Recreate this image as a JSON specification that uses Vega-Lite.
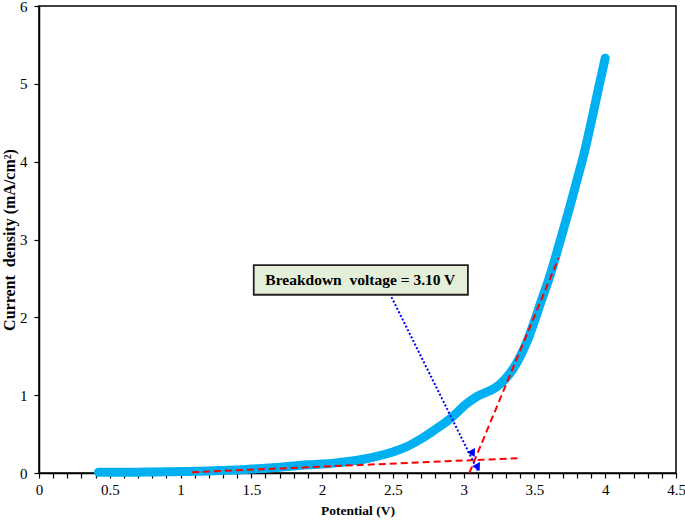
{
  "$schema": "https://vega.github.io/schema/vega-lite/v6.json",
  "autosize": "none",
  "width": 637,
  "height": 467,
  "padding": {"left": 39, "top": 6, "right": 9, "bottom": 49},
  "background": "white",
  "config": {
    "view": {"stroke": "black", "strokeWidth": 1.5},
    "axis": {
      "grid": false,
      "domainColor": "black",
      "domainWidth": 1.5,
      "tickColor": "black",
      "tickWidth": 1.2,
      "tickSize": 5,
      "labelFont": "Liberation Serif",
      "labelFontSize": 15,
      "labelColor": "black",
      "titleFont": "Liberation Serif",
      "titleFontSize": 13,
      "titleFontWeight": "bold",
      "titleColor": "black",
      "labelFlush": false,
      "labelOverlap": false
    }
  },
  "datasets": {
    "curve": [
      {"x": 0.42, "y": 0.01}, {"x": 0.5, "y": 0.01}, {"x": 0.6, "y": 0.01}, {"x": 0.7, "y": 0.011},
      {"x": 0.8, "y": 0.012}, {"x": 0.9, "y": 0.015}, {"x": 1.0, "y": 0.018}, {"x": 1.1, "y": 0.022},
      {"x": 1.2, "y": 0.027}, {"x": 1.3, "y": 0.033}, {"x": 1.4, "y": 0.04}, {"x": 1.5, "y": 0.05},
      {"x": 1.6, "y": 0.06}, {"x": 1.7, "y": 0.075}, {"x": 1.8, "y": 0.09}, {"x": 1.9, "y": 0.105},
      {"x": 2.0, "y": 0.115}, {"x": 2.1, "y": 0.13}, {"x": 2.2, "y": 0.15}, {"x": 2.3, "y": 0.18},
      {"x": 2.4, "y": 0.22}, {"x": 2.5, "y": 0.27}, {"x": 2.6, "y": 0.34}, {"x": 2.7, "y": 0.44},
      {"x": 2.8, "y": 0.56}, {"x": 2.9, "y": 0.69}, {"x": 2.95, "y": 0.77}, {"x": 3.0, "y": 0.86},
      {"x": 3.05, "y": 0.93}, {"x": 3.1, "y": 0.99}, {"x": 3.15, "y": 1.03}, {"x": 3.2, "y": 1.07},
      {"x": 3.25, "y": 1.13}, {"x": 3.3, "y": 1.22}, {"x": 3.35, "y": 1.34}, {"x": 3.4, "y": 1.5},
      {"x": 3.45, "y": 1.7}, {"x": 3.5, "y": 1.95}, {"x": 3.55, "y": 2.22}, {"x": 3.6, "y": 2.48},
      {"x": 3.65, "y": 2.78}, {"x": 3.7, "y": 3.1}, {"x": 3.75, "y": 3.42}, {"x": 3.8, "y": 3.76},
      {"x": 3.85, "y": 4.1}, {"x": 3.9, "y": 4.5}, {"x": 3.95, "y": 4.92}, {"x": 4.0, "y": 5.33}
    ],
    "tangents": [
      {"id": "a", "x": 1.08, "y": 0.01}, {"id": "a", "x": 3.38, "y": 0.19},
      {"id": "b", "x": 3.04, "y": 0.0}, {"id": "b", "x": 3.67, "y": 2.76}
    ],
    "arrow": [
      {"x": 2.49, "y": 2.26}, {"x": 3.1, "y": 0.03}
    ],
    "heads": [
      {"x": 3.065, "y": 0.25}, {"x": 3.1, "y": 0.07}
    ],
    "box": [
      {"x": 1.517, "y": 2.29, "x2": 3.03, "y2": 2.67, "label": "Breakdown\u00a0\u00a0voltage = 3.10 V", "xc": 2.27, "yc": 2.48}
    ]
  },
  "encoding": {
    "x": {
      "field": "x", "type": "quantitative",
      "scale": {"domain": [0, 4.5], "nice": false, "zero": false},
      "axis": {
        "title": "Potential (V)",
        "values": [0,0.1,0.2,0.3,0.4,0.5,0.6,0.7,0.8,0.9,1,1.1,1.2,1.3,1.4,1.5,1.6,1.7,1.8,1.9,2,2.1,2.2,2.3,2.4,2.5,2.6,2.7,2.8,2.9,3,3.1,3.2,3.3,3.4,3.5,3.6,3.7,3.8,3.9,4,4.1,4.2,4.3,4.4,4.5],
        "labelExpr": "(round(datum.value*10) % 5 == 0) ? '' + round(datum.value*10)/10 : ''",
        "labelPadding": 4,
        "titlePadding": 6,
        "titleFontSize": 13.5
      }
    },
    "y": {
      "field": "y", "type": "quantitative",
      "scale": {"domain": [0, 6], "nice": false},
      "axis": {
        "title": "Current\u00a0\u00a0density (mA/cm²)",
        "values": [0, 1, 2, 3, 4, 5, 6],
        "labelPadding": 7,
        "titlePadding": 2,
        "titleFontSize": 16
      }
    }
  },
  "layer": [
    {
      "data": {"name": "curve"},
      "mark": {"type": "line", "color": "#00b0f0", "strokeWidth": 9, "strokeCap": "round", "strokeJoin": "round", "interpolate": "monotone"}
    },
    {
      "data": {"name": "tangents"},
      "mark": {"type": "line", "color": "#ff0000", "strokeWidth": 2, "strokeDash": [7, 4]},
      "encoding": {"detail": {"field": "id"}}
    },
    {
      "data": {"name": "arrow"},
      "mark": {"type": "line", "color": "#0000ff", "strokeWidth": 2, "strokeDash": [2, 2]}
    },
    {
      "data": {"name": "heads"},
      "mark": {"type": "point", "shape": "triangle-up", "angle": 152, "filled": true, "color": "#0000ff", "size": 80, "opacity": 1}
    },
    {
      "data": {"name": "box"},
      "mark": {"type": "rect", "fill": "#e3efd9", "stroke": "#222222", "strokeWidth": 1.8},
      "encoding": {"x2": {"field": "x2"}, "y2": {"field": "y2"}}
    },
    {
      "data": {"name": "box"},
      "mark": {"type": "text", "font": "Liberation Serif", "fontSize": 15.5, "fontWeight": "bold", "color": "black", "align": "center", "baseline": "middle"},
      "encoding": {
        "x": {"field": "xc", "type": "quantitative"},
        "y": {"field": "yc", "type": "quantitative"},
        "text": {"field": "label"}
      }
    }
  ]
}
